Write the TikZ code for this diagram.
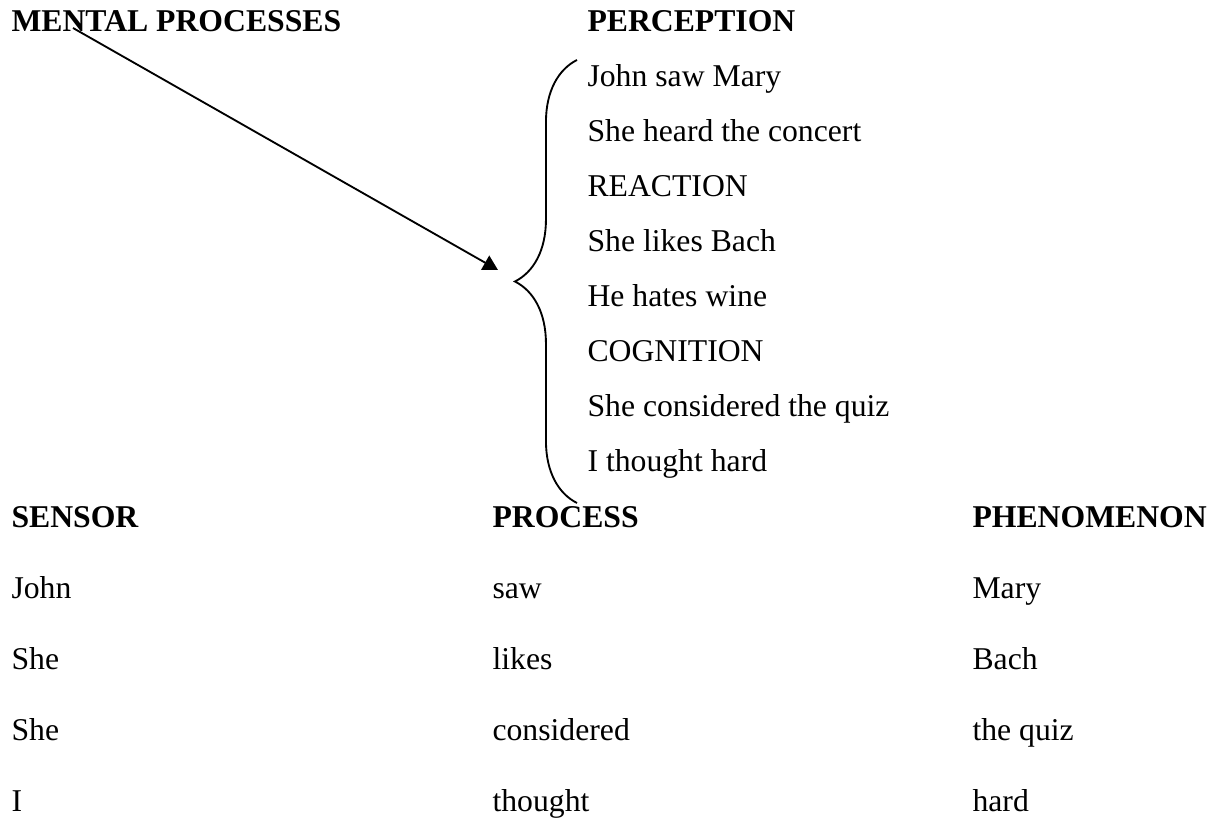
\documentclass[tikz,border=0pt]{standalone}
\usepackage{fontspec}
\setmainfont{Liberation Serif}
\usepackage{tikz}
\usetikzlibrary{arrows.meta, decorations.pathreplacing}
\tikzset{
  hd/.style={anchor=base west, inner sep=0pt, font=\fontsize{12}{14}\selectfont\bfseries},
  tx/.style={anchor=base west, inner sep=0pt, font=\fontsize{12}{14}\selectfont},
  arrow/.style={-{Triangle[length=5.6pt,width=6.1pt]}, line width=0.7pt},
  bracket/.style={decorate, decoration={brace, amplitude=23.5pt}, line width=0.7pt}
}
\begin{document}
\begin{tikzpicture}[x=0.3785pt, y=-0.3785pt]
        \useasboundingbox (0,0) rectangle (1213,821);

        \node[hd] (mental) at (11,32) {MENTAL PROCESSES};
        \node[hd] (perception) at (587,32) {PERCEPTION};

        \foreach \txt [count=\i] in {John saw Mary, She heard the concert, REACTION,
            She likes Bach, He hates wine, COGNITION, She considered the quiz, I thought hard}
          \node[tx] (ex\i) at (587, 32+55*\i) {\txt};

        \coordinate (bracetop) at (577,60);
        \coordinate (bracebot) at (577,503);
        \draw[bracket] (bracebot) -- (bracetop);

        \coordinate (arrowstart) at (73,28);
        \coordinate (arrowend) at (498,270);
        \draw[arrow] (arrowstart) -- (arrowend);

        \node[hd] (sensor) at (11,528) {SENSOR};
        \node[hd] (process) at (492,528) {PROCESS};
        \node[hd] (phenomenon) at (972,528) {PHENOMENON};

        \foreach \s/\p/\o [count=\i] in {John/saw/Mary, She/likes/Bach,
            She/considered/the quiz, I/thought/hard} {
          \node[tx] (sen\i) at (11, 528+71*\i) {\s};
          \node[tx] (pro\i) at (492, 528+71*\i) {\p};
          \node[tx] (phe\i) at (972, 528+71*\i) {\o};
        }
      \end{tikzpicture}
\end{document}
